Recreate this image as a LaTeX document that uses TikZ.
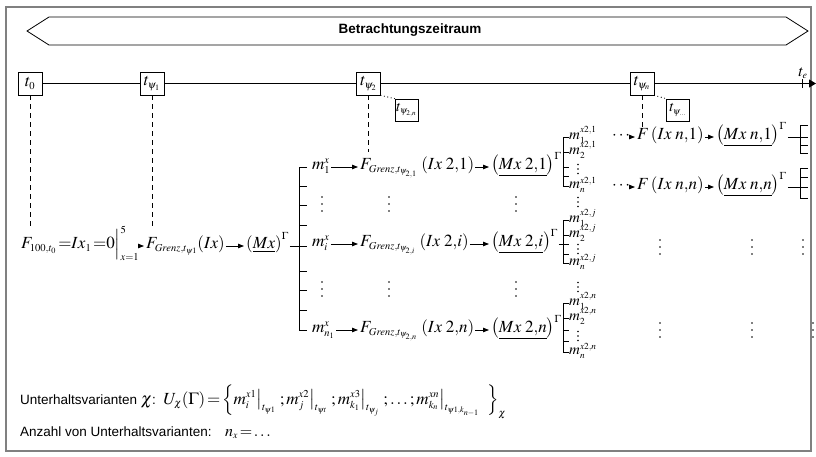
\documentclass[tikz,border=0pt]{standalone}
\usepackage{mathptmx}
\usepackage[no-math]{fontspec}
\setmainfont{Liberation Sans}
\usetikzlibrary{arrows.meta}

\renewcommand{\defaultscriptratio}{.62}
\renewcommand{\defaultscriptscriptratio}{.48}
\newcommand{\fsz}[1]{\fontsize{#1}{#1}\selectfont}
\definecolor{framegray}{RGB}{128,128,128}

\tikzset{
  ln/.style={line width=0.8pt},
  tbox/.style={draw, ln, minimum width=24pt, minimum height=23pt, inner sep=0pt, font=\fsz{17}},
  sbox/.style={draw, ln, minimum width=23pt, minimum height=22pt, inner sep=0pt, font=\fsz{15}},
  dashln/.style={ln, dash pattern=on 5pt off 4pt},
  dotln/.style={line width=1.2pt, dash pattern=on 0pt off 3.5pt, line cap=round},
  flow/.style={ln, -{Triangle[length=6pt,width=4.5pt]}, shorten >=1pt},
  eq/.style={anchor=mid west, inner sep=1pt, font=\fsz{17}},
  eqs/.style={anchor=mid west, inner sep=0pt, font=\fsz{15}},
  txt/.style={anchor=base west, inner sep=0pt, font=\fsz{13.5}},
  % column of three dots (continuation marks)
  vdt/.pic={\foreach \d in {-7,0,7} \fill (0,\d) circle (0.95pt);},
  svdt/.pic={\foreach \d in {-4.5,0,4.5} \fill (0,\d) circle (0.8pt);},
}

\begin{document}
\begin{tikzpicture}[x=1pt,y=-1pt]
\useasboundingbox (0,0) rectangle (816,456);

% outer frame
\draw[line width=1.3pt, framegray] (6,7) rectangle (811,451);

% period banner
\draw[ln] (49,17) -- (786,17) -- (808,31) -- (786,45) -- (49,45) -- (27,31) -- cycle;
\node[font=\fsz{13.5}\bfseries] (banner) at (410,30.5) {Betrachtungszeitraum};

% time axis with the decision points
\node[tbox] (t0)  at (30,83.5)   {$t_0$};
\node[tbox] (tp1) at (152,83.5)  {$t_{\psi_1}$};
\node[tbox] (tp2) at (368.5,83.5){$t_{\psi_2}$};
\node[tbox] (tpn) at (642,83.5)  {$t_{\psi_n}$};
\coordinate (tend) at (816,83.5);
\draw[ln] (t0) -- (tp1);
\draw[ln] (tp1) -- (tp2);
\draw[ln] (tp2) -- (tpn);
\draw[ln, -{Triangle[length=7pt,width=8pt]}] (tpn) -- (tend);
\coordinate (teA) at (802,79);
\coordinate (teB) at (802,88);
\draw[ln] (teA) -- (teB);
\node[font=\fsz{16}, anchor=base, inner sep=0pt] (tel) at (803,76) {$t_e$};

% secondary decision points
\node[sbox] (tp2n) at (406.5,110) {$t_{\psi_{2,n}}$};
\node[sbox] (tpx)  at (678,110)   {$t_{\psi_{\ldots}}$};
\draw[dotln] (tp2.south east) -- (tp2n.north west);
\draw[dotln] (tpn.south east) -- (tpx.north west);

% drop lines from the time axis
\coordinate (d0) at (30,228);
\coordinate (d1) at (152,230);
\coordinate (d2) at (368.5,152);
\coordinate (dn) at (642,131);
\draw[dashln] (t0.south) -- (d0);
\draw[dashln] (tp1.south) -- (d1);
\draw[dashln] (tp2.south) -- (d2);
\draw[dashln] (tpn.south) -- (dn);

% first stage
\node[eq] (F0) at (20,246) {$F_{100,t_0}\,{=}Ix_1\,{=}0\Big|_{x=1}^{5}$};
\node[eq] (G0) at (145,246) {$F_{Grenz,t_{\psi1}}\!\left(Ix\right)$};
\node[eq] (M0) at (245,246) {$\left(\underline{Mx}\right)^{\Gamma}$};
\draw[flow] (F0.mid east) -- (G0.mid west);
\draw[flow] (G0.mid east) -- (M0.mid west);
\coordinate (b0) at (307,246);
\draw[ln] (M0.mid east) -- (b0);

% branching of the first stage
\draw[ln] (307,167) -- (299,167) -- (299,330) -- (307,330);
\foreach \y in {186,205,225,271,290,310} \draw[ln] (299,\y) -- (307,\y);

% second stage rows
\node[eq] (mA) at (311,167) {$m_1^x$};
\node[eq] (FA) at (359,167) {$F_{Grenz,t_{\psi_{2,1}}}\,\left(Ix\;2{,}1\right)$};
\node[eq] (MA) at (490,167) {$\left(\underline{Mx\;2{,}1}\right)^{\Gamma}$};
\draw[flow] (mA.mid east) -- (FA.mid west);
\draw[flow] (FA.mid east) -- (MA.mid west);

\node[eq] (mB) at (311,244) {$m_i^x$};
\node[eq] (FB) at (359,244) {$F_{Grenz,t_{\psi_{2,i}}}\,\left(Ix\;2{,}i\right)$};
\node[eq] (MB) at (490,244) {$\left(\underline{Mx\;2{,}i}\right)^{\Gamma}$};
\draw[flow] (mB.mid east) -- (FB.mid west);
\draw[flow] (FB.mid east) -- (MB.mid west);

\node[eq] (mC) at (311,330) {$m_{n_1}^x$};
\node[eq] (FC) at (359,330) {$F_{Grenz,t_{\psi_{2,n}}}\,\left(Ix\;2{,}n\right)$};
\node[eq] (MC) at (490,330) {$\left(\underline{Mx\;2{,}n}\right)^{\Gamma}$};
\draw[flow] (mC.mid east) -- (FC.mid west);
\draw[flow] (FC.mid east) -- (MC.mid west);

\foreach \x in {322,389,516} {
  \pic at (\x,204) {vdt};
  \pic at (\x,289) {vdt};
}

% links into the third-stage brackets
\coordinate (gA) at (569,167);
\coordinate (gB) at (569,244);
\coordinate (gC) at (569,330);
\draw[ln] (MA.mid east) -- (gA);
\draw[ln] (MB.mid east) -- (gB);
\draw[ln] (MC.mid east) -- (gC);

% third-stage brackets
\draw[ln] (569,137) -- (563,137) -- (563,186) -- (569,186);
\draw[ln] (563,152) -- (569,152);
\draw[ln] (563,176) -- (569,176);
\node[eqs] (gA1) at (569,137) {$m_1^{x2,1}$};
\node[eqs] (gA2) at (569,152) {$m_2^{x2,1}$};
\pic at (578,169) {svdt};
\node[eqs] (gAn) at (569,186) {$m_n^{x2,1}$};
\pic at (578,202) {svdt};

\draw[ln] (569,220) -- (563,220) -- (563,263) -- (569,263);
\draw[ln] (563,235) -- (569,235);
\draw[ln] (563,254) -- (569,254);
\node[eqs] (gB1) at (569,220) {$m_1^{x2,j}$};
\node[eqs] (gB2) at (569,235) {$m_2^{x2,j}$};
\pic at (578,249) {svdt};
\node[eqs] (gBn) at (569,263) {$m_n^{x2,j}$};
\pic at (578,287) {svdt};

\draw[ln] (569,303) -- (563,303) -- (563,352) -- (569,352);
\draw[ln] (563,318) -- (569,318);
\draw[ln] (563,341) -- (569,341);
\node[eqs] (gC1) at (569,303) {$m_1^{x2,n}$};
\node[eqs] (gC2) at (569,318) {$m_2^{x2,n}$};
\pic at (578,336) {svdt};
\node[eqs] (gCn) at (569,352) {$m_n^{x2,n}$};

% last stage
\node[eq] (cA) at (611,137) {$\cdots$};
\node[eq] (FnA) at (636,137) {$F\left(Ix\;n{,}1\right)$};
\node[eq] (MnA) at (715,137) {$\left(\underline{Mx\;n{,}1}\right)^{\Gamma}$};
\draw[flow] (cA.mid east) -- (FnA.mid west);
\draw[flow] (FnA.mid east) -- (MnA.mid west);
\coordinate (rA) at (808,137);
\draw[ln] (MnA.mid east) -- (rA);
\draw[ln] (808,125) -- (800,125) -- (800,153) -- (808,153);
\draw[ln] (800,145) -- (808,145);

\node[eq] (cB) at (611,187) {$\cdots$};
\node[eq] (FnB) at (636,187) {$F\left(Ix\;n{,}n\right)$};
\node[eq] (MnB) at (715,187) {$\left(\underline{Mx\;n{,}n}\right)^{\Gamma}$};
\draw[flow] (cB.mid east) -- (FnB.mid west);
\draw[flow] (FnB.mid east) -- (MnB.mid west);
\coordinate (rB) at (808,187);
\draw[ln] (MnB.mid east) -- (rB);
\draw[ln] (808,168) -- (800,168) -- (800,198) -- (808,198);
\draw[ln] (800,177) -- (808,177);

\pic at (660,247) {vdt};
\pic at (752,247) {vdt};
\pic at (803,247) {vdt};
\pic at (660,330) {vdt};
\pic at (752,330) {vdt};
\pic at (813,330) {vdt};

% summary lines
\node[txt] (uv) at (20,404) {Unterhaltsvarianten {\fsz{17}$\chi$}:\ \ {\fsz{17}$U_{\chi}\!\left(\Gamma\right)\!=\!\left\{m_i^{x1}\big|_{t_{\psi1}}\;;m_j^{x2}\big|_{t_{\psi t}}\;;m_{k_1}^{x3}\big|_{t_{\psi_j}}\;;\ldots;m_{k_n}^{xn}\big|_{t_{\psi1,k_{n-1}}}\;\;\right\}_{\chi}$}};
\node[txt] (nx) at (20,436) {Anzahl von Unterhaltsvarianten:\quad{\fsz{16}$n_x\!=\!\ldots$}};

\end{tikzpicture}
\end{document}
